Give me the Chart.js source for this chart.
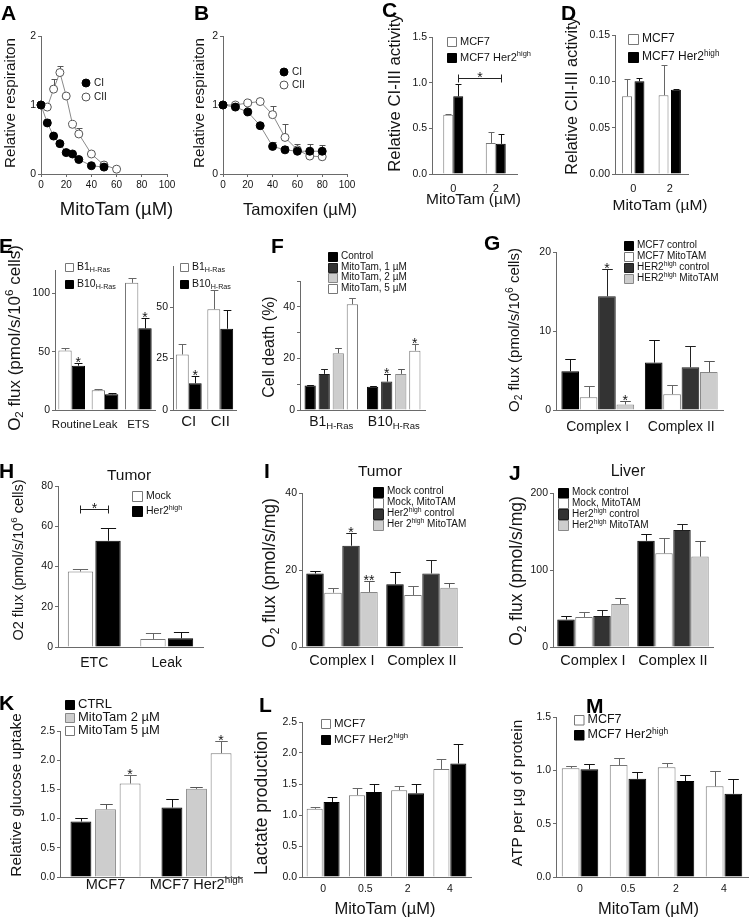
<!DOCTYPE html>
<html>
<head>
<meta charset="utf-8">
<title>MitoTam figure</title>
<script src="https://cdn.jsdelivr.net/npm/chart.js@4.4.1/dist/chart.umd.min.js"></script>
<style>
  html, body { margin: 0; background: #fff; }
  #fig { position: relative; width: 750px; height: 917px; overflow: hidden; background: #fff; }
  #fig canvas { position: absolute; }
  .letter { position: absolute; font: bold 21px 'Liberation Sans', Arial, sans-serif; line-height: 1; color: #000; }
</style>
</head>
<body>
<div id="fig"></div>
<script>
// ---------- data ----------
// A: relative respiration vs MitoTam
const aDoseCI = [0, 5, 10, 15, 20, 25, 30, 40, 50];
const aCI = [1.0, 0.74, 0.55, 0.44, 0.31, 0.29, 0.21, 0.12, 0.1];
const aCIErr = [0, 0.05, 0, 0, 0, 0, 0, 0, 0];
const aDoseCII = [0, 5, 10, 15, 20, 25, 30, 40, 50, 60];
const aCII = [1.0, 0.97, 1.23, 1.47, 1.13, 0.72, 0.58, 0.29, 0.13, 0.07];
const aCIIErr = [0, 0, 0.15, 0.1, 0, 0, 0.08, 0, 0.02, 0];

// B: relative respiration vs tamoxifen
const bDose = [0, 10, 20, 30, 40, 50, 60, 70, 80];
const bCI = [1.0, 0.97, 0.9, 0.7, 0.4, 0.35, 0.33, 0.33, 0.33];
const bCIErr = [0, 0.04, 0, 0, 0.07, 0.05, 0.1, 0.11, 0.09];
const bCII = [1.0, 1.0, 1.03, 1.05, 0.86, 0.53, 0.35, 0.26, 0.25];
const bCIIErr = [0, 0, 0, 0, 0.13, 0.19, 0, 0, 0];

// C / D: complex activities
const cdDose = ['0', '2'];
const cMcf7 = [0.65, 0.34], cMcf7Err = [0.01, 0.12];
const cHer2 = [0.85, 0.33], cHer2Err = [0.13, 0.11];
const dMcf7 = [0.084, 0.085], dMcf7Err = [0.019, 0.033];
const dHer2 = [0.100, 0.091], dHer2Err = [0.004, 0.001];

// E: O2 flux B1 / B10
const eStates = ['Routine', 'Leak', 'ETS'];
const eB1 = [51, 17, 109], eB1Err = [2, 1, 4];
const eB10 = [38, 13.5, 70], eB10Err = [2.5, 1.5, 9];
const eComplex = ['CI', 'CII'];
const eB1c = [27, 49], eB1cErr = [5, 9.5];
const eB10c = [13, 39.5], eB10cErr = [3.5, 9];

// F: cell death
const fCells = ['B1_{H-Ras}', 'B10_{H-Ras}'];
const fCtrl = [9.5, 9], fCtrlErr = [0.3, 0.2];
const fMt1 = [14, 11], fMt1Err = [2, 3];
const fMt2 = [22, 14], fMt2Err = [2, 1.8];
const fMt5 = [41, 23], fMt5Err = [2.5, 2.4];

// G: O2 flux MCF7 / HER2high
const complexes = ['Complex I', 'Complex II'];
const gMcfCtrl = [4.9, 6.0], gMcfCtrlErr = [1.5, 2.8];
const gMcfMito = [1.6, 2.0], gMcfMitoErr = [1.4, 1.2];
const gHerCtrl = [14.4, 5.4], gHerCtrlErr = [3.5, 2.7];
const gHerMito = [0.7, 4.8], gHerMitoErr = [0.4, 1.4];

// H: tumor ETC / leak
const hStates = ['ETC', 'Leak'];
const hMock = [37.5, 4], hMockErr = [1.5, 2.8];
const hHer2 = [52.8, 4.3], hHer2Err = [6.4, 3];

// I: tumor
const iMockCtrl = [19.1, 16.3], iMockCtrlErr = [0.7, 3.3];
const iMockMito = [14.1, 13.5], iMockMitoErr = [1.3, 2.4];
const iHerCtrl = [26.3, 19.1], iHerCtrlErr = [3.3, 3.5];
const iHerMito = [14.3, 15.4], iHerMitoErr = [2.9, 1.3];

// J: liver
const jMockCtrl = [35.7, 138], jMockCtrlErr = [4.7, 8.5];
const jMockMito = [39, 121.7], jMockMitoErr = [6, 19.6];
const jHerCtrl = [40.4, 152], jHerCtrlErr = [8.3, 8];
const jHerMito = [55.7, 117.4], jHerMitoErr = [8.3, 20.4];

// K: glucose uptake
const kCells = ['MCF7', 'MCF7 Her2^{high}'];
const kCtrl = [0.95, 1.19], kCtrlErr = [0.06, 0.15];
const kMt2 = [1.16, 1.51], kMt2Err = [0.09, 0.03];
const kMt5 = [1.6, 2.12], kMt5Err = [0.15, 0.21];

// L / M: lactate, ATP
const lmDose = ['0', '0.5', '2', '4'];
const lMcf7 = [1.1, 1.32, 1.4, 1.74], lMcf7Err = [0.03, 0.11, 0.06, 0.16];
const lHer2 = [1.21, 1.37, 1.35, 1.83], lHer2Err = [0.08, 0.13, 0.15, 0.32];
const mMcf7 = [1.02, 1.05, 1.03, 0.85], mMcf7Err = [0.025, 0.07, 0.04, 0.14];
const mHer2 = [1.01, 0.92, 0.9, 0.78], mHer2Err = [0.05, 0.065, 0.06, 0.14];

// ---------- styles ----------
const FONT = "'Liberation Sans', Arial, sans-serif";
const TXT = '#141414';
const AX = '#6a6a6a';
const WHITE = {backgroundColor: '#fff', borderColor: '#777', errColor: '#666'};
const BLACK = {backgroundColor: '#000', borderColor: '#000', errColor: '#111'};
const DARK = {backgroundColor: '#333', borderColor: '#1e1e1e', errColor: '#222'};
const GRAY = {backgroundColor: '#cdcdcd', borderColor: '#888', errColor: '#555'};

Chart.defaults.font.family = FONT;
Chart.defaults.color = TXT;

const fig = document.getElementById('fig');

// text with _{sub} and ^{sup} parts
function parts(s) {
  const out = [], re = /([_^])\{([^}]*)\}/g;
  let last = 0, m;
  while ((m = re.exec(s))) {
    if (m.index > last) out.push([s.slice(last, m.index), 0]);
    out.push([m[2], m[1] === '^' ? 1 : -1]);
    last = re.lastIndex;
  }
  if (last < s.length) out.push([s.slice(last), 0]);
  return out;
}

function rich(ctx, s, x, y, size, align) {
  const ps = parts(s);
  const fs = m => (m ? size * 0.68 : size);
  let w = 0;
  ps.forEach(([t, m]) => { ctx.font = fs(m) + 'px ' + FONT; w += ctx.measureText(t).width; });
  let cx = align === 'center' ? x - w / 2 : x;
  ctx.textAlign = 'left';
  ctx.textBaseline = 'middle';
  ctx.fillStyle = TXT;
  ps.forEach(([t, m]) => {
    ctx.font = fs(m) + 'px ' + FONT;
    ctx.fillText(t, cx, y - m * size * 0.3);
    cx += ctx.measureText(t).width;
  });
}

const valOf = v => (typeof v === 'object' ? v.y : v);

function errorBars(chart, o) {
  const ctx = chart.ctx, ys = chart.scales.y;
  ctx.save();
  ctx.lineWidth = 1;
  (o.errors || []).forEach((errs, di) => {
    const ds = chart.data.datasets[di];
    const meta = chart.getDatasetMeta(di);
    ctx.strokeStyle = ds.errColor || '#333';
    errs.forEach((e, i) => {
      if (!e) return;
      const el = meta.data[i];
      const v = valOf(ds.data[i]);
      const top = Math.round(ys.getPixelForValue(v + e)) + 0.5;
      const base = ys.getPixelForValue(v);
      const px = Math.round(el.x) + 0.5;
      const cap = el.width ? el.width * 0.3 : 3;
      ctx.beginPath();
      ctx.moveTo(px, base); ctx.lineTo(px, top);
      ctx.moveTo(px - cap, top); ctx.lineTo(px + cap, top);
      ctx.stroke();
    });
  });
  ctx.restore();
}

function marks(chart, o) {
  const ctx = chart.ctx, ys = chart.scales.y;
  ctx.save();
  ctx.fillStyle = TXT;
  ctx.strokeStyle = '#222';
  ctx.lineWidth = 1;
  ctx.textAlign = 'center';
  ctx.textBaseline = 'alphabetic';
  ctx.font = '14px ' + FONT;
  (o.stars || []).forEach(([di, i, t]) => {
    const ds = chart.data.datasets[di];
    const el = chart.getDatasetMeta(di).data[i];
    const e = (o.errors && o.errors[di] && o.errors[di][i]) || 0;
    const top = ys.getPixelForValue(valOf(ds.data[i]) + e);
    ctx.fillText(t || '*', el.x, top + 4);
  });
  (o.brackets || []).forEach(b => {
    const xa = Math.round(chart.getDatasetMeta(b.a[0]).data[b.a[1]].x) + 0.5;
    const xb = Math.round(chart.getDatasetMeta(b.b[0]).data[b.b[1]].x) + 0.5;
    const yy = Math.round(ys.getPixelForValue(b.v)) + 0.5;
    ctx.beginPath();
    ctx.moveTo(xa, yy - 4); ctx.lineTo(xa, yy + 4);
    ctx.moveTo(xa, yy); ctx.lineTo(xb, yy);
    ctx.moveTo(xb, yy - 4); ctx.lineTo(xb, yy + 4);
    ctx.stroke();
    ctx.fillText('*', (xa + xb) / 2, yy + 3);
  });
  ctx.restore();
}

function legendAndText(chart, o) {
  const ctx = chart.ctx;
  ctx.save();
  const L = o.legend;
  if (L) {
    chart.data.datasets.forEach((ds, i) => {
      const x = L.x - o.ox, cy = L.y + i * L.row - o.oy;
      ctx.fillStyle = ds.backgroundColor;
      ctx.strokeStyle = ds.pointBorderColor || ds.borderColor;
      ctx.lineWidth = 1;
      ctx.beginPath();
      if (L.shape === 'circle') ctx.arc(x + L.box / 2, cy, L.box / 2, 0, Math.PI * 2);
      else ctx.rect(Math.round(x) + 0.5, Math.round(cy - L.box / 2) + 0.5, L.box, L.box);
      ctx.fill();
      ctx.stroke();
      rich(ctx, ds.label, x + L.box + 4, cy, L.size, 'left');
    });
  }
  (o.texts || []).forEach(t => {
    ctx.save();
    ctx.translate(t.x - o.ox, t.y - o.oy);
    if (t.rot) ctx.rotate(-Math.PI / 2);
    rich(ctx, t.t, 0, 0, t.size, 'center');
    ctx.restore();
  });
  if (o.richX) {
    const xs = chart.scales.x;
    chart.data.labels.forEach((lab, i) =>
      rich(ctx, lab, xs.getPixelForValue(i), o.richY - o.oy, o.xSize, 'center'));
  }
  ctx.restore();
}

const extras = {
  id: 'extras',
  beforeDatasetsDraw(chart, args, o) { if (o.behind) errorBars(chart, o); },
  afterDatasetsDraw(chart, args, o) {
    if (!o.behind) errorBars(chart, o);
    marks(chart, o);
  },
  afterDraw(chart, args, o) { legendAndText(chart, o); }
};

// one panel = one canvas, plot area placed at x0..x1 / y0..y1
function panel(p) {
  const w = p.cR - p.cL, h = p.cB - p.cT;
  const cv = document.createElement('canvas');
  cv.width = w; cv.height = h;
  Object.assign(cv.style, {left: p.cL + 'px', top: p.cT + 'px', width: w + 'px', height: h + 'px'});
  fig.appendChild(cv);

  const isLine = p.type === 'line';
  const x = isLine ? {
    type: 'linear', min: 0, max: 100,
    grid: {display: true, drawOnChartArea: false, tickLength: 3, color: AX},
    ticks: {stepSize: 20, padding: 2, font: {size: 10}, maxRotation: 0}
  } : {
    type: 'category',
    grid: {display: true, drawOnChartArea: false, drawTicks: false, color: AX},
    ticks: {display: !p.richX, padding: p.xPad, font: {size: p.xSize}, maxRotation: 0, autoSkip: false}
  };
  x.border = {display: true, color: AX, width: 1};
  x.afterFit = s => { s.height = p.cB - p.y1; };

  const y = {
    min: 0, max: p.yMax,
    border: {display: true, color: AX, width: 1},
    grid: {display: true, drawOnChartArea: false, tickLength: 3, color: AX},
    ticks: {stepSize: p.yStep, includeBounds: false, padding: 2, font: {size: 10.5}, callback: p.yFmt || (v => v)},
    afterFit: s => { s.width = p.x0 - p.cL; }
  };

  const datasets = p.datasets.map(d => isLine ? d :
    Object.assign({borderWidth: 1, barPercentage: p.barPct, categoryPercentage: p.catPct}, d));

  const texts = (p.texts || []).slice();
  if (p.yTitle) texts.push(Object.assign({rot: true}, p.yTitle));
  if (p.xTitle) texts.push(p.xTitle);

  new Chart(cv, {
    type: p.type,
    data: {labels: p.labels, datasets},
    options: {
      responsive: false, animation: false, devicePixelRatio: 1,
      layout: {padding: {top: p.y0 - p.cT, right: p.cR - p.x1, left: 0, bottom: 0}},
      scales: {x, y},
      plugins: {
        legend: {display: false}, tooltip: {enabled: false},
        extras: {
          ox: p.cL, oy: p.cT, behind: isLine, errors: p.errors, stars: p.stars,
          brackets: p.brackets, legend: p.legend, texts,
          richX: p.richX, richY: p.richY, xSize: p.xSize
        }
      }
    },
    plugins: [extras]
  });
}

const xy = (xs, ys) => xs.map((v, i) => ({x: v, y: ys[i]}));
const ptStyle = (fill, edge) => ({
  borderColor: '#8a8a8a', borderWidth: 1, backgroundColor: fill, pointBackgroundColor: fill,
  pointBorderColor: edge, pointRadius: 4, pointBorderWidth: 1, tension: 0, clip: false, errColor: '#555'
});
const O2CELLS = 'O_{2} flux (pmol/s/10^{6} cells)';
const O2MG = 'O_{2} flux (pmol/s/mg)';

// A
panel({
  type: 'line', cL: 0, cT: 0, cR: 180, cB: 220, x0: 41, x1: 167, y0: 36, y1: 174,
  yMax: 2, yStep: 1,
  yTitle: {t: 'Relative respiraiton', x: 11, y: 103, size: 15.2},
  xTitle: {t: 'MitoTam (µM)', x: 116.5, y: 210, size: 18.5},
  datasets: [
    Object.assign({label: 'CI', data: xy(aDoseCI, aCI)}, ptStyle('#000', '#000')),
    Object.assign({label: 'CII', data: xy(aDoseCII, aCII)}, ptStyle('#fff', '#555'))
  ],
  errors: [aCIErr, aCIIErr],
  legend: {x: 82, y: 83, row: 14, box: 8, size: 10, shape: 'circle'}
});

// B
panel({
  type: 'line', cL: 185, cT: 0, cR: 362, cB: 220, x0: 223, x1: 347, y0: 36, y1: 174,
  yMax: 2, yStep: 1,
  yTitle: {t: 'Relative respiraiton', x: 200, y: 103, size: 15.2},
  xTitle: {t: 'Tamoxifen (µM)', x: 300, y: 210, size: 16.5},
  datasets: [
    Object.assign({label: 'CI', data: xy(bDose, bCI)}, ptStyle('#000', '#000')),
    Object.assign({label: 'CII', data: xy(bDose, bCII)}, ptStyle('#fff', '#555'))
  ],
  errors: [bCIErr, bCIIErr],
  legend: {x: 280, y: 72, row: 13, box: 8, size: 10, shape: 'circle'}
});

// C
panel({
  type: 'bar', cL: 383, cT: 0, cR: 548, cB: 215, x0: 432, x1: 517, y0: 37, y1: 174,
  yMax: 1.5, yStep: 0.5, yFmt: v => v.toFixed(1),
  yTitle: {t: 'Relative CI-III activity', x: 395, y: 93, size: 16.8},
  xTitle: {t: 'MitoTam (µM)', x: 473.5, y: 199.5, size: 15.5},
  labels: cdDose, xSize: 11, xPad: 8, catPct: 0.47, barPct: 1,
  datasets: [
    Object.assign({label: 'MCF7', data: cMcf7}, WHITE),
    Object.assign({label: 'MCF7 Her2^{high}', data: cHer2}, BLACK)
  ],
  errors: [cMcf7Err, cHer2Err],
  brackets: [{a: [1, 0], b: [1, 1], v: 1.05}],
  legend: {x: 447, y: 41.5, row: 16, box: 9, size: 11}
});

// D
panel({
  type: 'bar', cL: 561, cT: 0, cR: 750, cB: 220, x0: 615, x1: 688, y0: 35, y1: 174,
  yMax: 0.15, yStep: 0.05, yFmt: v => v.toFixed(2),
  yTitle: {t: 'Relative CII-III activity', x: 573, y: 96, size: 16.3},
  xTitle: {t: 'MitoTam (µM)', x: 660, y: 206, size: 15.5},
  labels: cdDose, xSize: 11, xPad: 8, catPct: 0.68, barPct: 0.8,
  datasets: [
    Object.assign({label: 'MCF7', data: dMcf7}, WHITE),
    Object.assign({label: 'MCF7 Her2^{high}', data: dHer2}, BLACK)
  ],
  errors: [dMcf7Err, dHer2Err],
  legend: {x: 628, y: 39, row: 18, box: 10, size: 12}
});

// E left
panel({
  type: 'bar', cL: 3, cT: 240, cR: 168, cB: 440, x0: 55, x1: 155, y0: 270, y1: 410,
  yMax: 120, yStep: 50,
  yTitle: {t: O2CELLS, x: 15, y: 338, size: 17},
  labels: eStates, xSize: 11.5, xPad: 8, catPct: 0.8, barPct: 1,
  datasets: [
    Object.assign({label: 'B1_{H-Ras}', data: eB1}, WHITE),
    Object.assign({label: 'B10_{H-Ras}', data: eB10}, BLACK)
  ],
  errors: [eB1Err, eB10Err],
  stars: [[1, 0], [1, 2]],
  legend: {x: 65, y: 267, row: 17, box: 8, size: 10.5}
});

// E right
panel({
  type: 'bar', cL: 150, cT: 240, cR: 245, cB: 440, x0: 173, x1: 236, y0: 266, y1: 410,
  yMax: 70, yStep: 25,
  labels: eComplex, xSize: 15, xPad: 3, catPct: 0.82, barPct: 1,
  datasets: [
    Object.assign({label: 'B1_{H-Ras}', data: eB1c}, WHITE),
    Object.assign({label: 'B10_{H-Ras}', data: eB10c}, BLACK)
  ],
  errors: [eB1cErr, eB10cErr],
  stars: [[1, 0]],
  legend: {x: 180, y: 267, row: 17, box: 8, size: 10.5}
});

// F
panel({
  type: 'bar', cL: 258, cT: 240, cR: 435, cB: 445, x0: 300, x1: 425, y0: 281, y1: 410,
  yMax: 50, yStep: 10, yFmt: v => (v % 20 === 0 ? v : ''),
  yTitle: {t: 'Cell death (%)', x: 270, y: 347, size: 16},
  labels: fCells, richX: true, richY: 422, xSize: 14, catPct: 0.9, barPct: 0.8,
  datasets: [
    Object.assign({label: 'Control', data: fCtrl}, BLACK),
    Object.assign({label: 'MitoTam, 1 µM', data: fMt1}, DARK),
    Object.assign({label: 'MitoTam, 2 µM', data: fMt2}, GRAY),
    Object.assign({label: 'MitoTam, 5 µM', data: fMt5}, WHITE)
  ],
  errors: [fCtrlErr, fMt1Err, fMt2Err, fMt5Err],
  stars: [[1, 1], [3, 1]],
  legend: {x: 328, y: 256.5, row: 10.5, box: 9, size: 10}
});

// G
panel({
  type: 'bar', cL: 503, cT: 230, cR: 745, cB: 440, x0: 556, x1: 723, y0: 252, y1: 410,
  yMax: 20, yStep: 10,
  yTitle: {t: O2CELLS, x: 515, y: 330, size: 15},
  labels: complexes, xSize: 14, xPad: 8.6, catPct: 0.88, barPct: 0.96,
  datasets: [
    Object.assign({label: 'MCF7 control', data: gMcfCtrl}, BLACK),
    Object.assign({label: 'MCF7 MitoTAM', data: gMcfMito}, WHITE),
    Object.assign({label: 'HER2^{high} control', data: gHerCtrl}, DARK),
    Object.assign({label: 'HER2^{high} MitoTAM', data: gHerMito}, GRAY)
  ],
  errors: [gMcfCtrlErr, gMcfMitoErr, gHerCtrlErr, gHerMitoErr],
  stars: [[2, 0], [3, 0]],
  legend: {x: 624, y: 245, row: 11, box: 9, size: 10}
});

// H
panel({
  type: 'bar', cL: 8, cT: 455, cR: 215, cB: 680, x0: 58, x1: 203, y0: 486, y1: 647,
  yMax: 80, yStep: 20,
  yTitle: {t: 'O2 flux (pmol/s/10^{6} cells)', x: 19, y: 560, size: 14.5},
  labels: hStates, xSize: 14, xPad: 7.6, catPct: 0.76, barPct: 0.92,
  datasets: [
    Object.assign({label: 'Mock', data: hMock}, WHITE),
    Object.assign({label: 'Her2^{high}', data: hHer2}, BLACK)
  ],
  errors: [hMockErr, hHer2Err],
  brackets: [{a: [0, 0], b: [1, 0], v: 68.5}],
  legend: {x: 132, y: 496, row: 15, box: 10, size: 10.5},
  texts: [{t: 'Tumor', x: 129, y: 476, size: 15.5}]
});

// I
panel({
  type: 'bar', cL: 258, cT: 455, cR: 500, cB: 680, x0: 302, x1: 462, y0: 493, y1: 647,
  yMax: 40, yStep: 20,
  yTitle: {t: O2MG, x: 270, y: 573, size: 17.5},
  labels: complexes, xSize: 14.5, xPad: 5.3, catPct: 0.9, barPct: 0.97,
  datasets: [
    Object.assign({label: 'Mock control', data: iMockCtrl}, BLACK),
    Object.assign({label: 'Mock, MitoTAM', data: iMockMito}, WHITE),
    Object.assign({label: 'Her2^{high} control', data: iHerCtrl}, DARK),
    Object.assign({label: 'Her 2^{high} MitoTAM', data: iHerMito}, GRAY)
  ],
  errors: [iMockCtrlErr, iMockMitoErr, iHerCtrlErr, iHerMitoErr],
  stars: [[2, 0, '*'], [3, 0, '**']],
  legend: {x: 373, y: 491.5, row: 11, box: 10, size: 10},
  texts: [{t: 'Tumor', x: 380, y: 471.5, size: 15.5}]
});

// J
panel({
  type: 'bar', cL: 505, cT: 455, cR: 740, cB: 680, x0: 553, x1: 713, y0: 493, y1: 647,
  yMax: 200, yStep: 100,
  yTitle: {t: O2MG, x: 517, y: 571, size: 17.5},
  labels: complexes, xSize: 14.5, xPad: 5.3, catPct: 0.9, barPct: 0.97,
  datasets: [
    Object.assign({label: 'Mock control', data: jMockCtrl}, BLACK),
    Object.assign({label: 'Mock, MitoTAM', data: jMockMito}, WHITE),
    Object.assign({label: 'Her2^{high} control', data: jHerCtrl}, DARK),
    Object.assign({label: 'Her2^{high} MitoTAM', data: jHerMito}, GRAY)
  ],
  errors: [jMockCtrlErr, jMockMitoErr, jHerCtrlErr, jHerMitoErr],
  legend: {x: 558, y: 492.5, row: 10.8, box: 10, size: 10},
  texts: [{t: 'Liver', x: 628, y: 471.5, size: 16}]
});

// K
panel({
  type: 'bar', cL: 5, cT: 690, cR: 265, cB: 917, x0: 60, x1: 242, y0: 731, y1: 877,
  yMax: 2.5, yStep: 0.5, yFmt: v => v.toFixed(1),
  yTitle: {t: 'Relative glucose uptake', x: 17, y: 795, size: 15.4},
  labels: kCells, richX: true, richY: 885, xSize: 14.5, catPct: 0.81, barPct: 0.85,
  datasets: [
    Object.assign({label: 'CTRL', data: kCtrl}, BLACK),
    Object.assign({label: 'MitoTam 2 µM', data: kMt2}, GRAY),
    Object.assign({label: 'MitoTam 5 µM', data: kMt5}, WHITE)
  ],
  errors: [kCtrlErr, kMt2Err, kMt5Err],
  stars: [[2, 0], [2, 1]],
  legend: {x: 65, y: 704.5, row: 13, box: 9, size: 13}
});

// L
panel({
  type: 'bar', cL: 250, cT: 690, cR: 490, cB: 917, x0: 302, x1: 471, y0: 722, y1: 877,
  yMax: 2.5, yStep: 0.5, yFmt: v => v.toFixed(1),
  yTitle: {t: 'Lactate production', x: 262, y: 803, size: 17.5},
  xTitle: {t: 'MitoTam (µM)', x: 385, y: 909, size: 16.5},
  labels: lmDose, xSize: 10.5, xPad: 5.7, catPct: 0.8, barPct: 0.95,
  datasets: [
    Object.assign({label: 'MCF7', data: lMcf7}, WHITE),
    Object.assign({label: 'MCF7 Her2^{high}', data: lHer2}, BLACK)
  ],
  errors: [lMcf7Err, lHer2Err],
  legend: {x: 321, y: 723.5, row: 16, box: 9, size: 11.5}
});

// M
panel({
  type: 'bar', cL: 506, cT: 690, cR: 750, cB: 917, x0: 556, x1: 748, y0: 717, y1: 877,
  yMax: 1.5, yStep: 0.5, yFmt: v => v.toFixed(1),
  yTitle: {t: 'ATP per µg of protein', x: 518, y: 793, size: 15.5},
  xTitle: {t: 'MitoTam (µM)', x: 648.5, y: 909, size: 16.5},
  labels: lmDose, xSize: 10.5, xPad: 5.7, catPct: 0.78, barPct: 0.95,
  datasets: [
    Object.assign({label: 'MCF7', data: mMcf7}, WHITE),
    Object.assign({label: 'MCF7 Her2^{high}', data: mHer2}, BLACK)
  ],
  errors: [mMcf7Err, mHer2Err],
  legend: {x: 574, y: 719.5, row: 15.5, box: 9.5, size: 12.5}
});

// panel letters
[['A', 1, 2], ['B', 194, 2], ['C', 382, -1], ['D', 561, 2], ['E', -1, 235], ['F', 271, 235],
 ['G', 484, 232], ['H', -1, 460], ['I', 264, 460], ['J', 509, 462], ['K', -1, 692],
 ['L', 259, 694], ['M', 586, 695]].forEach(([t, l, tp]) => {
  const d = document.createElement('div');
  d.className = 'letter';
  d.textContent = t;
  d.style.left = l + 'px';
  d.style.top = tp + 'px';
  fig.appendChild(d);
});
</script>
</body>
</html>
